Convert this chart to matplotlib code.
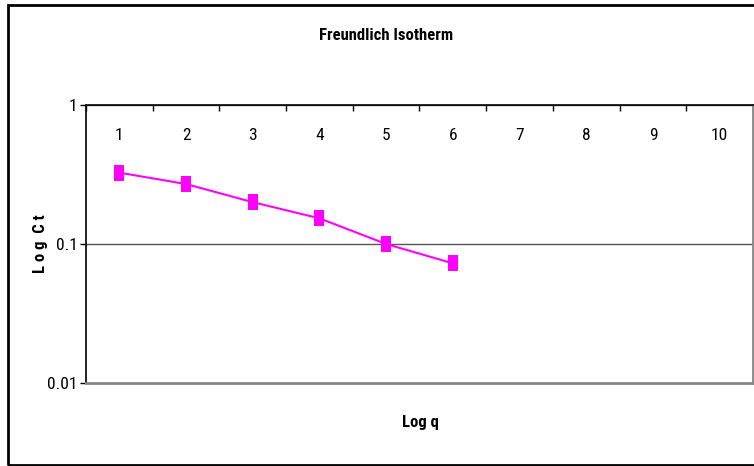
import matplotlib.pyplot as plt
from matplotlib.patches import Rectangle
from matplotlib.ticker import FixedLocator, NullFormatter

plt.rcParams["font.family"] = ["Roboto Condensed", "Liberation Sans", "DejaVu Sans"]

# category axis 1..10, data only for the first six
categories = [str(i) for i in range(1, 11)]
x_points = [1, 2, 3, 4, 5, 6]
log_ct = [0.326, 0.270, 0.200, 0.153, 0.100, 0.0726]
y_ticks = [0.01, 0.1, 1]
y_tick_labels = ["0.01", "0.1", "1"]

W, H = 754, 466
fig = plt.figure(figsize=(W / 100, H / 100), dpi=100)

# outer chart border (right edge falls outside the image)
fig.patches.append(Rectangle((8 / W, 1 - 465 / H), 760 / W, 460 / H,
                             transform=fig.transFigure, fill=False,
                             edgecolor="black", linewidth=2))

left, right, top, bottom = 86, 753, 105, 383
ax = fig.add_axes([left / W, 1 - bottom / H, (right - left) / W, (bottom - top) / H])

ax.set_yscale("log")
ax.set_ylim(0.01, 1)
ax.set_xlim(0.5, 10.5)

# marker: tall rectangle like Excel's square
rect = [(-0.6, -1), (0.6, -1), (0.6, 1), (-0.6, 1), (-0.6, -1)]
ax.plot(x_points, log_ct, color="#FF00FF", linewidth=1.5,
        marker=rect, markersize=11, markeredgewidth=0, clip_on=False)

# y axis
ax.yaxis.set_major_locator(FixedLocator(y_ticks))
ax.yaxis.set_minor_locator(FixedLocator([]))
ax.set_yticklabels(y_tick_labels)
ax.tick_params(axis="y", which="major", direction="out", length=4, width=1,
               labelsize=12.5, pad=2)
ax.grid(axis="y", which="major", color="#555555", linewidth=1)

# x axis on top: labels centred, ticks at category boundaries pointing down
ax.xaxis.set_major_locator(FixedLocator(range(1, 11)))
ax.set_xticklabels(categories)
ax.xaxis.set_minor_locator(FixedLocator([i + 0.5 for i in range(0, 11)]))
ax.xaxis.set_minor_formatter(NullFormatter())
ax.tick_params(axis="x", which="major", top=True, bottom=False, labeltop=True,
               labelbottom=False, length=0, labelsize=12.5, pad=-27)
ax.tick_params(axis="x", which="minor", top=True, bottom=False,
               direction="in", length=4, width=1)

for side in ("left", "top"):
    ax.spines[side].set_color("black")
    ax.spines[side].set_linewidth(1.2)
for side in ("right", "bottom"):
    ax.spines[side].set_color("#888888")
    ax.spines[side].set_linewidth(2)
ax.set_axisbelow(True)

fig.text(386 / W, 1 - 35 / H, "Freundlich Isotherm", ha="center", va="center",
         fontsize=12, fontweight="bold")
fig.text(420 / W, 1 - 422 / H, "Log q", ha="center", va="center",
         fontsize=12, fontweight="bold")
fig.text(40 / W, 1 - 244 / H, "L o g  C t", ha="center", va="center",
         rotation=90, fontsize=12, fontweight="bold")

fig.savefig("out.png", dpi=100)
